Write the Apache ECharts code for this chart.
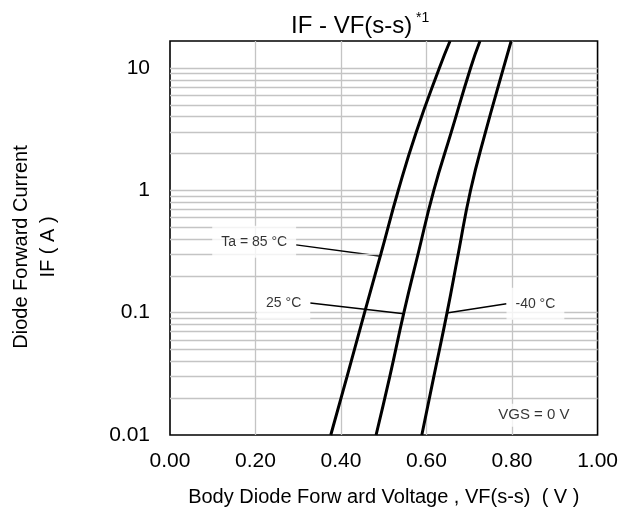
<!DOCTYPE html>
<html>
<head>
<meta charset="utf-8">
<script src="https://cdn.jsdelivr.net/npm/echarts@6/dist/echarts.min.js"></script>
<style>
html,body{margin:0;padding:0;background:#fff;}
#chart{width:621px;height:512px;}
</style>
</head>
<body>
<div id="chart"></div>
<script>
// ---- data ----
const vfTicks = [0.00, 0.20, 0.40, 0.60, 0.80, 1.00];
const ifDecadeLabels = [0.01, 0.1, 1, 10];
const ifMinorGrid = [0.02,0.03,0.04,0.05,0.06,0.07,0.08,0.09,
                     0.2,0.3,0.4,0.5,0.6,0.7,0.8,0.9,
                     2,3,4,5,6,7,8,9];
const ifPoints = [0.01, 0.03, 0.1, 0.3, 1, 3, 10, 16.6];
const vf85  = [0.376, 0.414, 0.455, 0.493, 0.534, 0.576, 0.630, 0.655];
const vf25  = [0.482, 0.514, 0.547, 0.580, 0.617, 0.658, 0.703, 0.725];
const vfM40 = [0.589, 0.617, 0.648, 0.674, 0.703, 0.738, 0.780, 0.798];
const seriesNames = ['Ta = 85 °C', '25 °C', '-40 °C'];
// leader lines: [label anchor, point on curve]
const leader85  = [[0.295, 0.358], [0.489, 0.290]];
const leader25  = [[0.328, 0.120], [0.547, 0.098]];
const leaderM40 = [[0.787, 0.118], [0.647, 0.0994]];
const noteText = 'VGS = 0 V';
const notePos = [0.851, 0.0145];
const yMin = 0.01, yMax = 16.6;

const zip = (xs, ys) => xs.map((x, i) => [x, ys[i]]);
const isDecade = v => Math.abs(Math.log10(v) - Math.round(Math.log10(v))) < 1e-6;
const FONT = 'Liberation Sans, Arial, sans-serif';

const curveStyle = {type:'line', showSymbol:false, smooth:0.5, z:5,
  lineStyle:{color:'#000', width:3}, silent:true};
const leaderStyle = {type:'line', showSymbol:false, z:4,
  lineStyle:{color:'#000', width:1.5}, silent:true};
const boxLabel = {show:true, color:'#000', fontSize:14, fontFamily:FONT,
  backgroundColor:'#fff', padding:[9,9,9,9]};

const chart = echarts.init(document.getElementById('chart'), null, {renderer:'canvas'});
chart.setOption({
  animation:false,
  backgroundColor:'#fff',
  textStyle:{fontFamily:FONT},
  title:[
    {text:'IF - VF(s-s)', left:286, top:9,
     textStyle:{fontSize:24, fontWeight:'normal', color:'#000', fontFamily:FONT}},
    {text:'*1', left:411, top:6,
     textStyle:{fontSize:14, fontWeight:'normal', color:'#000', fontFamily:FONT}}
  ],
  grid:{left:153, top:41, width:449, height:395, show:true, borderColor:'#000', borderWidth:1.6,
        backgroundColor:'transparent', containLabel:false},
  xAxis:{
    type:'value', min:vfTicks[0], max:vfTicks[vfTicks.length-1], interval:0.2,
    name:'Body Diode Forw ard Voltage , VF(s-s)  ( V )', nameLocation:'middle', nameGap:52,
    nameTextStyle:{fontSize:20, color:'#000'},
    axisLine:{show:false}, axisTick:{show:false},
    axisLabel:{fontSize:21, color:'#000', margin:16, formatter:v => v.toFixed(2)},
    splitLine:{show:true, showMinLine:false, showMaxLine:false, lineStyle:{color:'#c4c4c4', width:1.3}}
  },
  yAxis:{
    type:'log', logBase:10, min:yMin, max:yMax,
    name:'Diode Forward Current\nIF ( A )', nameLocation:'middle', nameGap:108, nameRotate:90,
    nameTextStyle:{fontSize:20, color:'#000', lineHeight:27, align:'center', padding:[0,18,0,0]},
    axisLine:{show:false}, axisTick:{show:false},
    axisLabel:{fontSize:21, color:'#000', margin:20,
      formatter:v => (isDecade(v) && ifDecadeLabels.some(d => Math.abs(d - v) / d < 1e-6)) ? String(+v.toPrecision(3)) : ''},
    splitLine:{show:true, showMinLine:false, showMaxLine:false, lineStyle:{color:'#c4c4c4', width:1.3}}
  },
  series:[
    {type:'line', data:[], z:1, silent:true,
     markLine:{silent:true, symbol:'none', label:{show:false}, animation:false,
       lineStyle:{color:'#c4c4c4', width:1.3, type:'solid'},
       data:ifMinorGrid.map(v => ({yAxis:v}))}},
    Object.assign({name:seriesNames[0], data:zip(vf85, ifPoints)}, curveStyle),
    Object.assign({name:seriesNames[1], data:zip(vf25, ifPoints)}, curveStyle),
    Object.assign({name:seriesNames[2], data:zip(vfM40, ifPoints)}, curveStyle),
    Object.assign({data:leader85}, leaderStyle),
    Object.assign({data:leader25}, leaderStyle),
    Object.assign({data:leaderM40}, leaderStyle),
    {type:'scatter', symbolSize:0, z:6, silent:true,
     data:[
       {value:leader85[0],  label:Object.assign({}, boxLabel, {position:'left', distance:0, formatter:seriesNames[0], offset:[0,-3]})},
       {value:leader25[0],  label:Object.assign({}, boxLabel, {position:'left', distance:0, formatter:seriesNames[1]})},
       {value:leaderM40[0], label:Object.assign({}, boxLabel, {position:'right', distance:0, formatter:seriesNames[2]})},
       {value:notePos, label:Object.assign({}, boxLabel, {position:'inside', fontSize:15, padding:[4,6], formatter:noteText})}
     ]}
  ]
});
</script>
</body>
</html>
